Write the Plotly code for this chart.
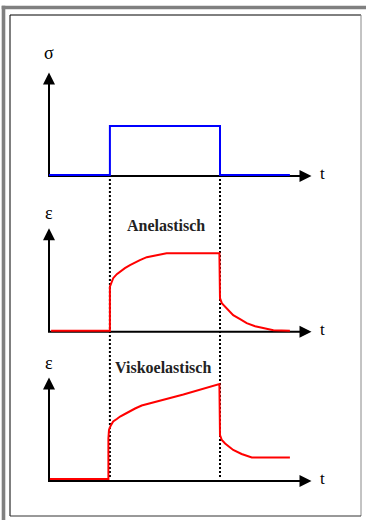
import plotly.graph_objects as go

# ── Data (time in arbitrary units, strain / stress in arbitrary units) ─────────
T_ON = 2.03     # load applied
T_OFF = 5.7     # load removed

# panel 1 — stress step σ(t)
sigma_t = [0.0, 2.03, 2.03, 5.7, 5.7, 8.03]
sigma_v = [0.02, 0.02, 1.0, 1.0, 0.02, 0.02]

# panel 2 — anelastic strain ε(t)
anel_t = [0.07, 2.03, 2.03, 2.09, 2.14, 2.26, 2.37, 2.53, 2.70, 2.87, 3.03,
          3.26, 3.47, 3.64, 3.92, 5.68, 5.68, 5.70, 5.76, 5.87, 5.98, 6.14,
          6.37, 6.59, 6.87, 7.14, 7.48, 8.03]
anel_v = [0.02, 0.02, 0.90, 1.00, 1.07, 1.15, 1.20, 1.27, 1.33, 1.39, 1.43,
          1.49, 1.52, 1.54, 1.57, 1.57, 0.80, 0.67, 0.57, 0.50, 0.43, 0.33,
          0.25, 0.17, 0.11, 0.07, 0.03, 0.02]

# panel 3 — viscoelastic strain ε(t)
visk_t = [0.03, 1.98, 1.98, 2.00, 2.06, 2.14, 2.26, 2.37, 2.53, 2.70, 2.87,
          3.09, 4.48, 5.68, 5.68, 5.70, 5.76, 5.87, 6.14, 6.42, 6.76, 8.03]
visk_v = [0.04, 0.04, 0.85, 1.02, 1.11, 1.19, 1.24, 1.29, 1.34, 1.40, 1.45,
          1.51, 1.73, 1.94, 1.05, 0.92, 0.82, 0.75, 0.62, 0.54, 0.47, 0.47]

PANEL_LABELS = ["σ", "ε", "ε"]
PANEL_TITLES = [None, "Anelastisch", "Viskoelastisch"]
TIME_LABEL = "t"

# ── Layout geometry ───────────────────────────────────────────────────────────
W, H = 366, 520
X0_PX = 49          # pixel column of t = 0
PX_PER_T = 30
PX_PER_U = 50
BASE_PX = [176, 331.7, 481]   # pixel row of each panel's time axis
Y_TIP = 2.07
X_TIP = 8.75

SERIF = '"Liberation Serif", "Times New Roman", serif'
BLUE = "#0000ff"
RED = "#ff0000"


def px(x):
    return x / W


def py(y):
    return 1 - y / H


def yrange(base):
    return [-(H - base) / PX_PER_U, base / PX_PER_U]


axes = ["y", "y2", "y3"]
curves = [(sigma_t, sigma_v, BLUE), (anel_t, anel_v, RED), (visk_t, visk_v, RED)]

fig = go.Figure()

for ax, (tx, vy, col) in zip(axes, curves):
    # axis lines (L shape)
    fig.add_trace(go.Scatter(
        x=[0, 0, X_TIP - 0.1], y=[Y_TIP - 0.1, 0, 0], yaxis=ax,
        mode="lines", line=dict(color="black", width=2),
        hoverinfo="skip", showlegend=False,
    ))
    fig.add_trace(go.Scatter(
        x=tx, y=vy, yaxis=ax, mode="lines",
        line=dict(color=col, width=2), showlegend=False,
    ))
    # arrow heads
    fig.add_trace(go.Scatter(
        x=[0, X_TIP], y=[Y_TIP, 0], yaxis=ax, mode="markers",
        marker=dict(symbol=["arrow-up", "arrow-right"], size=12,
                    color="black", line=dict(width=0)),
        hoverinfo="skip", showlegend=False,
    ))

annotations = []
label_y = [2.46, 2.37, 2.36]
title_pos = [None, (3.9, 2.13), (3.8, 2.28)]
for i, ax in enumerate(axes):
    annotations.append(dict(
        x=0, y=label_y[i], xref="x", yref=ax, text=PANEL_LABELS[i],
        showarrow=False, font=dict(family=SERIF, size=18, color="black"),
    ))
    annotations.append(dict(
        x=9.1, y=0.05, xref="x", yref=ax, text=TIME_LABEL,
        showarrow=False, font=dict(family=SERIF, size=17, color="black"),
    ))
    if PANEL_TITLES[i]:
        annotations.append(dict(
            x=title_pos[i][0], y=title_pos[i][1], xref="x", yref=ax,
            text="<b>" + PANEL_TITLES[i] + "</b>", showarrow=False,
            font=dict(family=SERIF, size=16, color="#222"),
        ))

shapes = []
# dotted guides at load on / off
for t in (T_ON, T_OFF):
    shapes.append(dict(
        type="line", xref="x", yref="paper", x0=t, x1=t,
        y0=py(477), y1=py(177), layer="below",
        line=dict(color="black", width=2, dash="2px,2px"),
    ))
# page frame
shapes += [
    dict(type="rect", xref="paper", yref="paper", x0=px(1.7), x1=1,
         y0=py(9.3), y1=py(5.7), fillcolor="#808080", line=dict(width=0)),
    dict(type="rect", xref="paper", yref="paper", x0=px(1.7), x1=px(5.3),
         y0=0, y1=py(5.7), fillcolor="#808080", line=dict(width=0)),
    dict(type="line", xref="paper", yref="paper", x0=px(10), x1=px(361),
         y0=py(15), y1=py(15), line=dict(color="black", width=1)),
    dict(type="line", xref="paper", yref="paper", x0=px(10), x1=px(10),
         y0=py(15), y1=py(516), line=dict(color="black", width=1)),
    dict(type="line", xref="paper", yref="paper", x0=px(361), x1=px(361),
         y0=py(15), y1=py(516), line=dict(color="#888", width=1)),
    dict(type="line", xref="paper", yref="paper", x0=px(10), x1=px(361),
         y0=py(516), y1=py(516), line=dict(color="#333", width=1)),
]

hidden = dict(visible=False, showgrid=False, zeroline=False, fixedrange=True)
fig.update_layout(
    width=W, height=H,
    margin=dict(l=0, r=0, t=0, b=0),
    paper_bgcolor="white", plot_bgcolor="rgba(0,0,0,0)",
    xaxis=dict(range=[-X0_PX / PX_PER_T, (W - X0_PX) / PX_PER_T],
               domain=[0, 1], **hidden),
    yaxis=dict(range=yrange(BASE_PX[0]), domain=[0, 1], **hidden),
    yaxis2=dict(range=yrange(BASE_PX[1]), domain=[0, 1], overlaying="y", **hidden),
    yaxis3=dict(range=yrange(BASE_PX[2]), domain=[0, 1], overlaying="y", **hidden),
    annotations=annotations,
    shapes=shapes,
    showlegend=False,
)

# page body has an 8px default margin; drop it so the figure fills the window
fig.write_html(
    "out.html",
    config={"displayModeBar": False},
    post_script="document.body.style.margin='0';",
)
